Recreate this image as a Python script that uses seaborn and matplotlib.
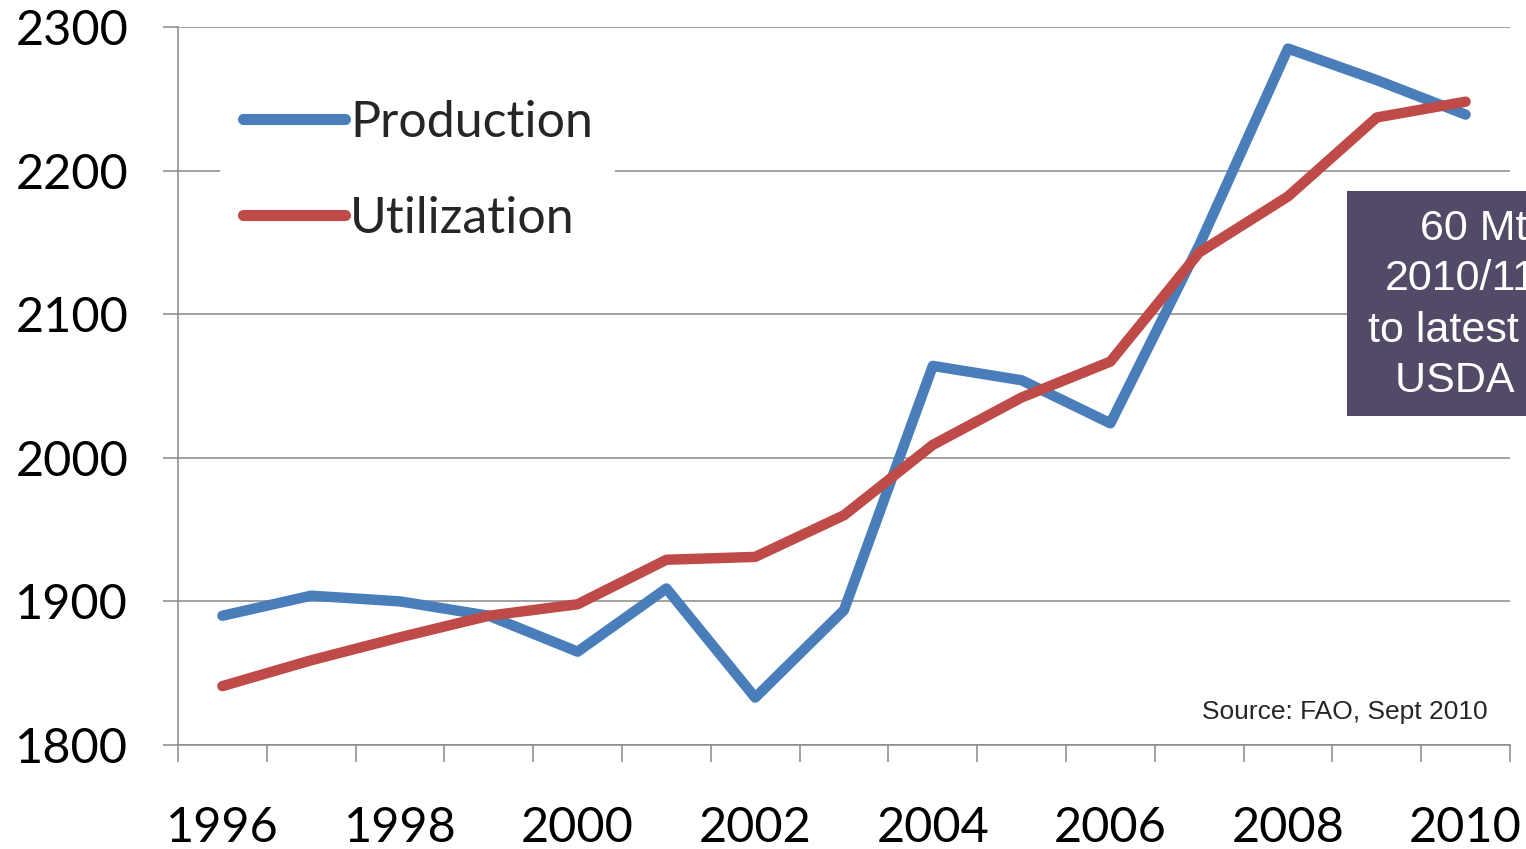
import matplotlib
matplotlib.use("Agg")
import matplotlib.pyplot as plt
from matplotlib.patches import Rectangle
from matplotlib.ticker import FixedLocator, NullFormatter
import pandas as pd
import seaborn as sns

# values (million tonnes)
years = list(range(1996, 2011))
production = [1890, 1904, 1900, 1890, 1865, 1909, 1833, 1894, 2064, 2054, 2024, 2148, 2285, 2263, 2239]
utilization = [1841, 1859, 1875, 1890, 1898, 1929, 1931, 1960, 2009, 2042, 2067, 2143, 2182, 2237, 2248]
series_names = ["Production", "Utilization"]
series_colors = ["#4A7EBB", "#BE4B48"]
label_years = years[::2]
year_labels = [str(y) for y in label_years]
y_ticks = [1800, 1900, 2000, 2100, 2200, 2300]
note_lines = ["60 Mt", "2010/11", "to latest", "USDA ("]
source_text = "Source: FAO, Sept 2010"

df = pd.DataFrame({
    "year": years * 2,
    "value": production + utilization,
    "series": [series_names[0]] * len(years) + [series_names[1]] * len(years),
})

sns.set_style("white")
plt.rcParams["font.family"] = ["Lato", "DejaVu Sans"]

grey = "#898989"
W, H = 1526, 849
fig, ax = plt.subplots(figsize=(W / 100, H / 100), dpi=100)
fig.subplots_adjust(left=178 / W, right=1510 / W, bottom=1 - 745 / H, top=1 - 27 / H)

sns.lineplot(data=df, x="year", y="value", hue="series",
             palette=dict(zip(series_names, series_colors)),
             linewidth=7.5, ax=ax)
for ln in ax.lines:
    ln.set_solid_capstyle("round")
    ln.set_solid_joinstyle("round")

ax.set_xlim(years[0] - 0.5, years[-1] + 0.5)
ax.set_ylim(y_ticks[0], y_ticks[-1])
ax.set_xlabel("")
ax.set_ylabel("")

# y axis: gridlines + small outward ticks
ax.set_yticks(y_ticks)
ax.yaxis.grid(True, color=grey, linewidth=1.1)
ax.xaxis.grid(False)
ax.tick_params(axis="y", left=True, length=10.8, width=1.1, color=grey,
               pad=25, labelsize=35, labelcolor="black")

# x axis: ticks on category boundaries, labels at every other year
ax.xaxis.set_major_locator(FixedLocator([y - 0.5 for y in years] + [years[-1] + 0.5]))
ax.xaxis.set_major_formatter(NullFormatter())
ax.set_xticks(label_years, labels=year_labels, minor=True)
ax.tick_params(axis="x", which="major", bottom=True, length=12, width=1.1, color=grey)
ax.tick_params(axis="x", which="minor", bottom=True, length=0, pad=44,
               labelsize=35, labelcolor="black")

for side in ["top", "right"]:
    ax.spines[side].set_visible(False)
for side in ["left", "bottom"]:
    ax.spines[side].set_color(grey)
    ax.spines[side].set_linewidth(1.1)

handles, labels = ax.get_legend_handles_labels()
for h in handles:
    h.set_linewidth(8)
    h.set_solid_capstyle("round")
ax.legend(handles, labels, loc="upper left", bbox_to_anchor=(42 / 1332, 0.93),
          borderaxespad=0, frameon=True, facecolor="white", edgecolor="none",
          framealpha=1, fontsize=36, handlelength=2.05, handletextpad=0.1,
          labelspacing=1.0, borderpad=0.45)

# dark note box, cut off at the right edge like the slide
fig.patches.append(Rectangle((1347 / W, 1 - 416 / H), 0.2, 225 / H,
                             transform=fig.transFigure, facecolor="#524A66",
                             edgecolor="none", zorder=5))
note_x = [1420, 1385, 1368, 1395]
note_y = [229, 279, 331, 381]
for txt, nx, ny in zip(note_lines, note_x, note_y):
    fig.text(nx / W, 1 - ny / H, txt, color="white", fontsize=31,
             family="Liberation Sans", ha="left", va="center", zorder=6)

fig.text(1202 / W, 1 - 712 / H, source_text, fontsize=19,
         family="Liberation Sans", ha="left", va="center")

fig.savefig("out.png", dpi=100)
